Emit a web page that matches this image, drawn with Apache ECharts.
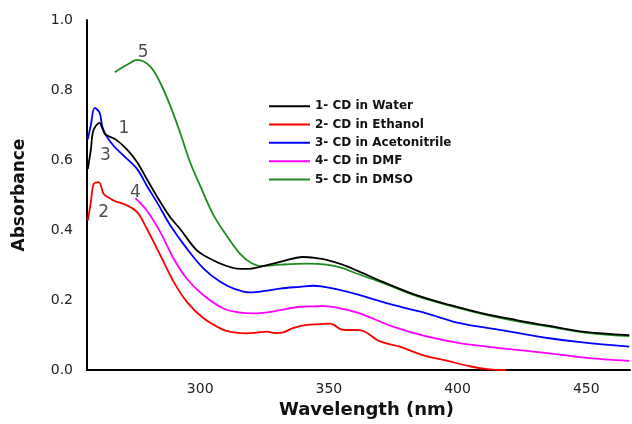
<!DOCTYPE html>
<html>
<head>
<meta charset="utf-8">
<script src="https://cdn.jsdelivr.net/npm/echarts@6/dist/echarts.min.js"></script>
<style>
html,body{margin:0;padding:0;background:#fff;}
#chart{width:632px;height:424px;}
</style>
</head>
<body>
<div id="chart"></div>
<script>
// ---- Data ----
const seriesNames = ['1- CD in Water', '2- CD in Ethanol', '3- CD in Acetonitrile', '4- CD in DMF', '5- CD in DMSO'];

const waterX = [256.3, 257.5, 258.5, 260.9, 262.0, 263.2, 267.1, 271.6, 275.5, 279.3, 284.5, 288.5, 292.2, 298.7, 305.2, 310.0, 314.2, 318.0, 323.3, 331.0, 340.0, 345.0, 349.1, 355.0, 360.7, 371.0, 384.0, 396.9, 409.8, 422.8, 435.7, 448.6, 466.7];
const waterY = [0.574, 0.630, 0.685, 0.706, 0.690, 0.673, 0.659, 0.630, 0.594, 0.545, 0.480, 0.435, 0.403, 0.342, 0.313, 0.298, 0.290, 0.289, 0.295, 0.309, 0.323, 0.320, 0.315, 0.302, 0.285, 0.252, 0.214, 0.186, 0.162, 0.143, 0.126, 0.110, 0.100];

const ethanolX = [256.3, 257.5, 258.6, 260.6, 262.5, 265.1, 266.4, 271.6, 275.5, 279.3, 284.5, 289.7, 294.8, 301.3, 309.0, 313.0, 318.1, 322.0, 325.9, 329.0, 332.3, 336.0, 341.4, 346.5, 350.4, 355.5, 362.0, 369.8, 377.5, 386.5, 396.9, 404.7, 412.4, 418.9];
const ethanolY = [0.427, 0.480, 0.531, 0.537, 0.503, 0.490, 0.484, 0.470, 0.451, 0.403, 0.328, 0.252, 0.195, 0.148, 0.115, 0.108, 0.105, 0.107, 0.110, 0.106, 0.108, 0.120, 0.129, 0.131, 0.133, 0.115, 0.114, 0.082, 0.067, 0.043, 0.025, 0.011, 0.002, 0.000];

const acetonitrileX = [256.3, 257.5, 259.0, 260.9, 261.9, 263.2, 266.4, 270.3, 275.5, 279.3, 283.2, 288.4, 294.8, 301.3, 307.8, 313.0, 319.4, 325.0, 331.0, 338.8, 344.0, 347.0, 355.0, 362.0, 374.9, 387.9, 400.8, 416.3, 435.7, 448.6, 466.7];
const acetonitrileY = [0.659, 0.700, 0.749, 0.735, 0.697, 0.673, 0.640, 0.612, 0.574, 0.526, 0.479, 0.413, 0.347, 0.290, 0.252, 0.233, 0.222, 0.226, 0.233, 0.238, 0.241, 0.239, 0.228, 0.214, 0.186, 0.162, 0.134, 0.115, 0.091, 0.079, 0.067];

const dmfX = [274.8, 279.3, 284.5, 289.7, 294.8, 301.3, 309.0, 315.0, 320.7, 326.0, 331.0, 338.8, 343.9, 348.4, 355.0, 362.0, 374.9, 387.9, 400.8, 416.3, 435.7, 451.2, 466.7];
const dmfY = [0.491, 0.455, 0.394, 0.318, 0.261, 0.214, 0.176, 0.165, 0.162, 0.165, 0.171, 0.181, 0.182, 0.183, 0.175, 0.162, 0.124, 0.096, 0.077, 0.063, 0.048, 0.034, 0.026];

const dmsoX = [266.8, 271.6, 275.5, 280.6, 284.5, 288.4, 292.2, 296.1, 300.0, 305.0, 310.3, 315.5, 320.0, 324.0, 331.0, 341.4, 349.0, 355.0, 360.7, 371.0, 384.0, 396.9, 409.8, 422.8, 435.7, 448.6, 466.7];
const dmsoY = [0.851, 0.872, 0.886, 0.867, 0.820, 0.754, 0.678, 0.593, 0.526, 0.445, 0.384, 0.332, 0.305, 0.297, 0.301, 0.304, 0.301, 0.292, 0.276, 0.249, 0.212, 0.184, 0.160, 0.140, 0.124, 0.108, 0.097];

// curve number labels (data coordinates)
const curveLabelText = ['5', '1', '3', '4', '2'];
const curveLabelX = [277.8, 270.3, 263.2, 274.8, 262.5];
const curveLabelY = [0.908, 0.691, 0.612, 0.508, 0.449];

const yTicks = [0, 0.2, 0.4, 0.6, 0.8, 1.0];

// ---- Chart ----
const colors = ['#000000', '#ff0000', '#0000ff', '#ff00ff', '#1e8c1e'];
const xs = [waterX, ethanolX, acetonitrileX, dmfX, dmsoX];
const ys = [waterY, ethanolY, acetonitrileY, dmfY, dmsoY];
const zip = (a, b) => a.map((v, i) => [v, b[i]]);

const series = seriesNames.map((name, i) => ({
  name: name,
  type: 'line',
  data: zip(xs[i], ys[i]),
  showSymbol: false,
  smooth: 0.35,
  lineStyle: { color: colors[i], width: 1.8 },
  itemStyle: { color: colors[i] },
  z: i === 0 ? 6 : 3
}));

series.push({
  name: 'labels',
  type: 'scatter',
  symbolSize: 0,
  data: curveLabelX.map((x, i) => ({ value: [x, curveLabelY[i]], label: { formatter: curveLabelText[i] } })),
  label: {
    show: true,
    position: 'inside',
    fontFamily: 'DejaVu Sans',
    fontSize: 17,
    color: '#222'
  },
  silent: true
});

const chart = echarts.init(document.getElementById('chart'), null, { renderer: 'canvas' });
chart.setOption({
  animation: false,
  backgroundColor: '#ffffff',
  grid: { left: 87, right: 2, top: 20, bottom: 52, containLabel: false },
  legend: {
    data: seriesNames,
    orient: 'vertical',
    left: 264,
    top: 95,
    icon: 'rect',
    itemWidth: 41,
    itemHeight: 2,
    itemGap: 5.8,
    textStyle: { fontFamily: 'DejaVu Sans', fontWeight: 'bold', fontSize: 12, color: '#111', lineHeight: 12.5 }
  },
  xAxis: {
    type: 'value',
    min: 256,
    max: 467,
    name: 'Wavelength (nm)',
    nameLocation: 'middle',
    nameGap: 29,
    nameTextStyle: { fontFamily: 'DejaVu Sans', fontWeight: 'bold', fontSize: 18, color: '#111', padding: [0, 0, 0, 16] },
    axisLine: { show: true, lineStyle: { color: '#000', width: 2 } },
    axisTick: { show: false },
    splitLine: { show: false },
    axisLabel: {
      showMinLabel: false,
      showMaxLabel: false,
      margin: 12,
      fontFamily: 'DejaVu Sans',
      fontSize: 14,
      color: '#222'
    }
  },
  yAxis: {
    type: 'value',
    min: yTicks[0],
    max: yTicks[yTicks.length - 1],
    interval: 0.2,
    name: 'Absorbance',
    nameLocation: 'middle',
    nameGap: 59,
    nameTextStyle: { fontFamily: 'DejaVu Sans', fontWeight: 'bold', fontSize: 17, color: '#111' },
    axisLine: { show: true, lineStyle: { color: '#000', width: 2 } },
    axisTick: { show: false },
    splitLine: { show: false },
    axisLabel: {
      margin: 14,
      fontFamily: 'DejaVu Sans',
      fontSize: 14,
      color: '#222',
      formatter: v => v.toFixed(1)
    }
  },
  series: series
});
</script>
</body>
</html>
